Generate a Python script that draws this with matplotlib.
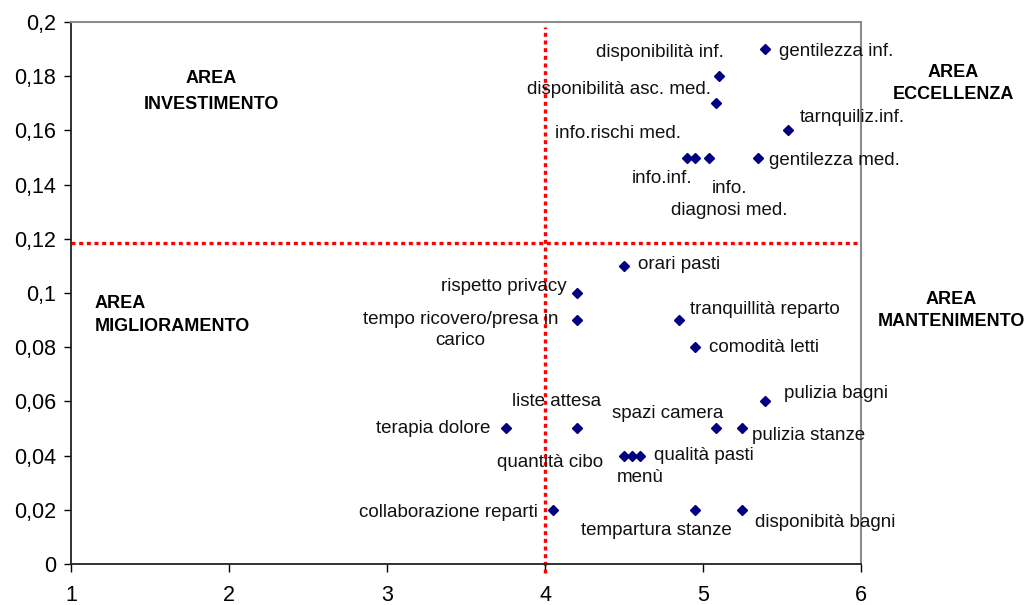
import matplotlib.pyplot as plt
from matplotlib.ticker import FuncFormatter, MultipleLocator

plt.rcParams['font.family'] = ['Liberation Sans', 'DejaVu Sans']

# punti: (etichetta, x, y)
labels = ["gentilezza inf.", "disponibilità inf.", "disponibilità asc. med.",
          "tarnquiliz.inf.", "gentilezza med.", "info.rischi med.", "info.inf.",
          "info.\ndiagnosi med.", "orari pasti", "rispetto privacy",
          "tempo ricovero/presa in\ncarico", "tranquillità reparto", "comodità letti",
          "pulizia bagni", "pulizia stanze", "spazi camera", "liste attesa",
          "terapia dolore", "quantità cibo", "qualità pasti", "menù",
          "collaborazione reparti", "tempartura stanze", "disponibità bagni"]
x_vals = [5.39, 5.10, 5.08, 5.54, 5.35, 4.90, 4.95, 5.04, 4.50, 4.20,
          4.20, 4.85, 4.95, 5.39, 5.25, 5.08, 4.20, 3.75, 4.50, 4.60, 4.55,
          4.05, 4.95, 5.25]
y_vals = [0.19, 0.18, 0.17, 0.16, 0.15, 0.15, 0.15, 0.15, 0.11, 0.10,
          0.09, 0.09, 0.08, 0.06, 0.05, 0.05, 0.05, 0.05, 0.04, 0.04, 0.04,
          0.02, 0.02, 0.02]

x_soglia = 4.0
y_soglia = 0.1185

# posizione etichette (offset in pixel, allineamento)
offsets = [(14, -2, 'left'), (5, 24, 'right'), (-5, 14, 'right'),
           (11, 13, 'left'), (11, -3, 'left'), (-6, 24, 'right'), (-3, -21, 'right'),
           (20, -42, 'center'), (14, 1, 'left'), (-10, 7, 'right'),
           (-116, -10, 'center'), (11, 11, 'left'), (14, 0, 'left'),
           (19, 8, 'left'), (10, -7, 'left'), (8, 15, 'right'), (-20, 27, 'center'),
           (-15, 0, 'right'), (-21, -7, 'right'), (14, 0, 'left'), (8, -22, 'center'),
           (-15, -3, 'right'), (-39, -21, 'center'), (13, -13, 'left')]

fig = plt.figure(figsize=(10.31, 6.05), dpi=100)
ax = fig.add_axes([0.0689, 0.0678, 0.7662, 0.8958])

ax.plot(x_vals, y_vals, 'D', color='#000080', markersize=5.5, zorder=3)

for lab, x, y, (dx, dy, ha) in zip(labels, x_vals, y_vals, offsets):
    ax.annotate(lab, (x, y), xytext=(dx, dy), textcoords='offset pixels',
                ha=ha, va='center', multialignment='center', fontsize=13.5,
                color='#111111', annotation_clip=False, linespacing=1.35)

ax.axhline(y_soglia, color='red', lw=2.4, dashes=(1.2, 1.1))
ax.axvline(x_soglia, ymin=-0.017, ymax=0.991, color='red', lw=2.4,
           dashes=(1.2, 1.1), clip_on=False)

ax.set_xlim(1, 6)
ax.set_ylim(0, 0.2)
ax.xaxis.set_major_locator(MultipleLocator(1))
ax.yaxis.set_major_locator(MultipleLocator(0.02))
ax.yaxis.set_major_formatter(FuncFormatter(lambda v, p: ('%g' % round(v, 4)).replace('.', ',')))
ax.tick_params(axis='y', direction='out', length=5, width=1, labelsize=15.5, pad=6)
ax.tick_params(axis='x', direction='out', length=6, width=1, labelsize=15.5, pad=9)

for s in ['top', 'right']:
    ax.spines[s].set_color('#8c8c8c')
    ax.spines[s].set_linewidth(1.5)
for s in ['left', 'bottom']:
    ax.spines[s].set_color('#222222')
    ax.spines[s].set_linewidth(1.3)

qkw = dict(fontsize=13, fontweight='bold', va='center')
fig.text(211 / 1031, 1 - 91.5 / 605, "AREA\nINVESTIMENTO", ha='center',
         multialignment='center', linespacing=1.65, **qkw)
fig.text(953 / 1031, 1 - 83.5 / 605, "AREA\nECCELLENZA", ha='center',
         multialignment='center', linespacing=1.4, **qkw)
fig.text(95 / 1031, 1 - 315 / 605, "AREA\nMIGLIORAMENTO", ha='left',
         multialignment='left', linespacing=1.4, **qkw)
fig.text(951 / 1031, 1 - 310.5 / 605, "AREA\nMANTENIMENTO", ha='center',
         multialignment='center', linespacing=1.4, **qkw)

fig.savefig('out.png', dpi=100)
